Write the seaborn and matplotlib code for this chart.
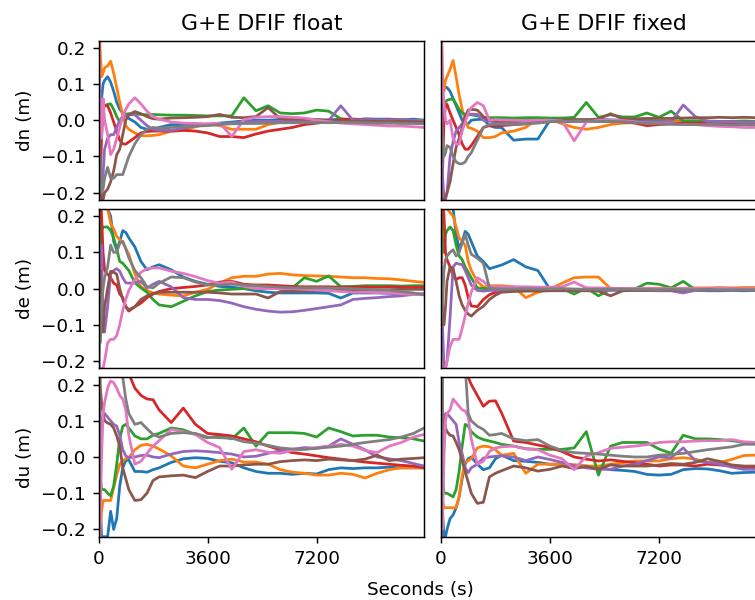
#Recreate the 3x2 grid of position-error traces (float vs fixed)
import numpy as np
import pandas as pd
import matplotlib
matplotlib.use('Agg')
import matplotlib.pyplot as plt
import seaborn as sns

#sample times (s), shared by every trace
seconds = [0, 50, 100, 150, 200, 300, 400, 500, 600, 700, 800, 900, 1000, 1200, 1400, 1600, 1800, 2000,
           2400, 2800, 3200, 3600, 4000, 4400, 4800, 5200, 5600, 6000, 6400, 6800, 7200, 7600, 8000,
           8400, 8800, 9200, 9600, 10000, 10400, 10750]
runs = ['run 1', 'run 2', 'run 3', 'run 4', 'run 5', 'run 6', 'run 7', 'run 8']

#north error, float solution (one row per run)
dn_float = [
    [0.4, -0.05, 0.06, 0.10, 0.11, 0.12, 0.105, 0.08, 0.05, 0.03, 0.02, 0.015, 0.005, -0.005, -0.02, -0.025, -0.025, -0.02, -0.012, -0.012, -0.01, -0.012, -0.008, -0.005, -0.002, 0.0, 0.0, 0.002, 0.001, -0.002, 0.0, 0.001, 0.003, 0.0, 0.004, 0.003, 0.003, 0.001, 0.003, 0.0],
    [0.4, 0.2, 0.12, 0.13, 0.145, 0.15, 0.163, 0.13, 0.09, 0.05, 0.015, -0.015, -0.025, -0.035, -0.043, -0.043, -0.042, -0.04, -0.03, -0.028, -0.018, -0.01, -0.015, -0.025, -0.025, -0.025, -0.012, -0.006, -0.005, -0.005, -0.004, -0.004, -0.003, -0.002, -0.002, -0.001, -0.002, -0.001, -0.002, -0.002],
    [-0.3, 0.0, 0.03, 0.04, 0.04, 0.044, 0.045, 0.03, 0.01, -0.005, 0.01, 0.017, 0.018, 0.017, 0.016, 0.015, 0.016, 0.015, 0.014, 0.014, 0.013, 0.012, 0.012, 0.012, 0.062, 0.026, 0.04, 0.02, 0.018, 0.02, 0.028, 0.025, 0.004, 0.002, 0.001, 0.0, 0.0, 0.001, 0.0, 0.0],
    [-0.4, -0.2, -0.05, 0.03, 0.04, 0.04, 0.02, -0.005, -0.03, -0.055, -0.065, -0.066, -0.06, -0.048, -0.035, -0.031, -0.03, -0.03, -0.03, -0.028, -0.03, -0.035, -0.045, -0.045, -0.048, -0.038, -0.03, -0.025, -0.02, -0.012, -0.008, -0.004, 0.002, 0.003, 0.002, 0.0, 0.001, 0.0, -0.002, -0.003],
    [0.3, -0.22, -0.22, -0.15, -0.08, -0.05, -0.04, -0.04, -0.02, 0.0, 0.01, 0.012, 0.015, 0.015, 0.0, -0.015, -0.025, -0.028, -0.028, -0.022, -0.016, -0.012, -0.01, -0.008, -0.005, -0.004, -0.003, -0.003, -0.002, -0.002, -0.002, -0.001, 0.04, 0.0, 0.002, 0.001, 0.0, 0.001, 0.0, -0.001],
    [-0.4, -0.1, -0.22, -0.22, -0.2, -0.19, -0.17, -0.14, -0.095, -0.08, -0.04, 0.0, 0.015, 0.024, 0.018, 0.01, 0.004, 0.003, 0.006, 0.007, 0.008, 0.01, 0.016, 0.008, 0.007, 0.01, 0.035, 0.004, 0.003, 0.003, 0.002, 0.0, -0.002, -0.003, -0.002, -0.003, -0.004, -0.003, -0.004, -0.005],
    [0.3, 0.05, -0.05, 0.06, 0.0, -0.04, -0.095, -0.08, -0.05, -0.02, 0.01, 0.03, 0.045, 0.062, 0.045, 0.025, 0.01, 0.003, -0.005, -0.008, -0.009, -0.01, -0.008, -0.045, 0.002, 0.008, 0.01, 0.01, 0.008, 0.006, 0.0, -0.004, -0.008, -0.01, -0.012, -0.014, -0.016, -0.016, -0.018, -0.02],
    [0.0, -0.1, -0.2, -0.19, -0.16, -0.13, -0.16, -0.16, -0.15, -0.15, -0.15, -0.125, -0.1, -0.065, -0.04, -0.025, -0.02, -0.022, -0.02, -0.018, -0.016, -0.015, -0.012, -0.01, -0.009, -0.009, -0.008, -0.007, -0.007, -0.006, -0.006, -0.007, -0.006, -0.006, -0.007, -0.008, -0.008, -0.009, -0.009, -0.01],
]

#north error, fixed solution
dn_fixed = [
    [-0.3, 0.12, 0.1, 0.09, 0.09, 0.08, 0.06, 0.04, 0.02, 0.0, -0.01, -0.01, 0.0, 0.002, 0.003, -0.015, -0.02, -0.02, -0.055, -0.052, -0.052, 0.0, 0.002, 0.001, 0.0, 0.002, 0.001, 0.0, -0.001, -0.001, -0.002, -0.002, -0.003, -0.002, -0.003, -0.004, -0.003, -0.004, -0.004, -0.004],
    [0.4, 0.1, 0.08, 0.11, 0.12, 0.14, 0.165, 0.12, 0.07, 0.03, 0.0, -0.02, -0.022, -0.03, -0.048, -0.048, -0.045, -0.035, -0.03, -0.02, 0.005, 0.004, -0.01, -0.02, -0.025, -0.02, -0.012, -0.008, -0.006, -0.005, -0.005, -0.004, -0.004, -0.005, -0.004, -0.004, -0.005, -0.004, -0.005, -0.005],
    [0.3, 0.0, 0.04, 0.05, 0.055, 0.058, 0.058, 0.045, 0.03, 0.02, 0.016, 0.015, 0.015, 0.012, 0.008, 0.007, 0.007, 0.007, 0.006, 0.007, 0.007, 0.006, 0.006, 0.008, 0.049, 0.008, 0.015, 0.009, 0.009, 0.02, 0.008, 0.025, -0.002, -0.002, -0.002, -0.003, -0.003, -0.002, -0.003, -0.003],
    [-0.4, -0.15, 0.0, 0.04, 0.044, 0.02, 0.0, -0.02, -0.04, -0.065, -0.08, -0.08, -0.07, -0.045, -0.02, -0.015, -0.015, -0.015, -0.012, -0.01, -0.006, -0.004, -0.004, -0.003, -0.003, -0.003, -0.002, -0.005, -0.008, -0.015, -0.012, -0.01, -0.008, -0.008, -0.007, -0.008, -0.008, -0.009, -0.008, -0.008],
    [0.3, -0.15, -0.22, -0.22, -0.2, -0.1, -0.06, -0.03, -0.02, -0.01, 0.01, 0.015, 0.017, 0.016, 0.0, -0.003, -0.004, -0.004, -0.004, -0.003, -0.003, -0.002, -0.002, -0.003, -0.002, -0.003, -0.004, -0.004, -0.005, -0.006, -0.006, -0.005, 0.042, 0.01, -0.003, -0.004, -0.004, -0.005, -0.005, -0.005],
    [-0.4, -0.22, -0.22, -0.21, -0.2, -0.17, -0.12, -0.075, -0.05, -0.02, 0.01, 0.028, 0.03, 0.028, 0.01, 0.0, -0.002, -0.002, -0.002, -0.001, -0.001, 0.0, 0.001, 0.002, 0.002, 0.003, 0.018, 0.004, 0.004, 0.005, 0.005, 0.005, 0.006, 0.007, 0.007, 0.008, 0.007, 0.008, 0.007, 0.007],
    [0.3, 0.1, 0.05, 0.0, -0.01, 0.0, -0.05, -0.066, -0.066, -0.03, -0.005, 0.02, 0.035, 0.049, 0.04, 0.0, 0.002, 0.001, 0.0, -0.001, 0.0, 0.0, -0.002, -0.057, -0.005, 0.0, 0.0, -0.001, -0.004, -0.008, -0.009, -0.01, -0.012, -0.012, -0.015, -0.017, -0.018, -0.02, -0.02, -0.02],
    [0.0, -0.05, -0.1, -0.09, -0.07, -0.075, -0.1, -0.115, -0.12, -0.12, -0.115, -0.1, -0.09, -0.055, -0.02, -0.012, -0.011, -0.011, -0.011, -0.01, -0.008, -0.004, -0.003, -0.002, -0.002, -0.003, -0.003, -0.004, -0.006, -0.009, -0.01, -0.011, -0.012, -0.012, -0.011, -0.012, -0.013, -0.012, -0.013, -0.013],
]

#east error, float solution
de_float = [
    [0.4, 0.3, 0.3, 0.3, 0.25, 0.22, 0.2, 0.13, 0.107, 0.13, 0.16, 0.155, 0.14, 0.115, 0.075, 0.052, 0.06, 0.066, 0.052, 0.032, 0.02, 0.012, 0.006, 0.004, 0.0, -0.006, -0.01, -0.012, -0.012, -0.012, -0.012, -0.013, -0.026, -0.012, -0.012, -0.012, -0.013, -0.014, -0.015, -0.015],
    [-0.3, 0.3, 0.3, 0.25, 0.22, 0.22, 0.18, 0.165, 0.144, 0.135, 0.13, 0.11, 0.095, 0.04, 0.005, -0.005, -0.012, -0.015, -0.018, -0.02, -0.01, -0.002, 0.015, 0.03, 0.034, 0.034, 0.04, 0.042, 0.038, 0.036, 0.035, 0.034, 0.032, 0.03, 0.03, 0.028, 0.027, 0.024, 0.02, 0.017],
    [0.4, 0.1, 0.16, 0.17, 0.17, 0.17, 0.16, 0.14, 0.11, 0.075, 0.07, 0.06, 0.05, 0.016, 0.002, -0.01, -0.03, -0.045, -0.05, -0.035, -0.02, -0.008, -0.004, -0.002, 0.0, -0.001, 0.0, 0.001, 0.002, 0.03, 0.02, 0.035, 0.005, 0.006, 0.008, 0.008, 0.008, 0.007, 0.008, 0.008],
    [0.4, 0.3, 0.2, 0.1, 0.05, 0.04, 0.03, 0.015, 0.01, -0.015, -0.025, -0.05, -0.062, -0.05, -0.04, -0.025, -0.015, -0.008, 0.0, 0.003, 0.006, 0.01, 0.018, 0.02, 0.012, 0.01, 0.01, 0.008, 0.006, 0.005, 0.005, 0.005, 0.004, 0.004, 0.005, 0.004, 0.005, 0.004, 0.004, 0.004],
    [-0.4, 0.1, 0.12, -0.1, -0.12, -0.05, 0.04, 0.05, 0.055, 0.048, 0.03, 0.016, 0.015, 0.016, 0.02, 0.002, 0.012, 0.02, 0.005, -0.025, -0.03, -0.03, -0.033, -0.04, -0.05, -0.057, -0.062, -0.065, -0.064, -0.06, -0.055, -0.05, -0.045, -0.03, -0.027, -0.025, -0.022, -0.02, -0.016, -0.014],
    [0.0, 0.05, -0.1, -0.12, -0.05, 0.0, 0.048, 0.045, 0.04, 0.0, -0.03, -0.05, -0.058, -0.05, -0.03, -0.02, -0.014, -0.01, -0.01, -0.01, -0.01, -0.01, -0.012, -0.015, -0.015, -0.015, -0.026, -0.008, -0.007, -0.007, -0.006, -0.006, -0.005, -0.005, -0.004, -0.004, -0.003, -0.002, -0.002, -0.002],
    [-0.4, -0.25, -0.22, -0.22, -0.2, -0.15, -0.14, -0.14, -0.13, -0.1, -0.06, -0.03, -0.005, 0.025, 0.045, 0.055, 0.057, 0.057, 0.048, 0.042, 0.033, 0.022, 0.015, 0.018, 0.006, 0.0, 0.0, 0.0, 0.0, -0.002, -0.004, -0.006, -0.008, -0.01, -0.01, -0.011, -0.012, -0.014, -0.016, -0.017],
    [0.0, -0.15, -0.05, 0.0, 0.03, 0.06, 0.12, 0.1, 0.1, 0.125, 0.13, 0.11, 0.085, 0.05, 0.03, 0.005, 0.002, 0.015, 0.032, 0.03, 0.018, 0.01, 0.01, 0.012, 0.01, 0.008, 0.006, 0.004, 0.002, 0.002, 0.002, 0.002, 0.001, 0.0, -0.002, -0.003, -0.005, -0.008, -0.012, -0.017],
]

#east error, fixed solution
de_fixed = [
    [0.4, 0.3, 0.3, 0.3, 0.28, 0.25, 0.22, 0.15, 0.11, 0.13, 0.158, 0.15, 0.13, 0.09, 0.075, 0.055, 0.06, 0.065, 0.08, 0.06, 0.05, -0.002, -0.002, -0.003, -0.003, -0.002, -0.003, -0.003, -0.004, -0.003, -0.004, -0.004, -0.005, -0.005, -0.006, -0.006, -0.005, -0.006, -0.005, -0.005],
    [-0.3, 0.3, 0.3, 0.25, 0.22, 0.21, 0.2, 0.17, 0.14, 0.13, 0.12, 0.075, 0.05, 0.02, 0.004, 0.008, 0.008, 0.008, 0.005, -0.025, -0.01, -0.002, 0.015, 0.03, 0.032, 0.032, 0.0, 0.0, 0.0, 0.001, 0.001, 0.0, 0.001, 0.002, 0.002, 0.003, 0.002, 0.003, 0.003, 0.003],
    [0.3, 0.11, 0.1, 0.15, 0.16, 0.17, 0.16, 0.12, 0.09, 0.08, 0.06, 0.045, 0.03, 0.002, 0.0, 0.0, 0.0, 0.0, 0.0, 0.0, 0.001, 0.0, 0.0, -0.015, 0.002, -0.02, -0.002, 0.0, -0.001, 0.015, 0.012, 0.002, 0.02, -0.003, -0.003, -0.002, -0.003, -0.003, -0.004, -0.004],
    [0.4, 0.3, 0.2, 0.1, 0.08, 0.06, 0.035, 0.025, 0.03, 0.03, 0.01, -0.025, -0.048, -0.05, -0.03, -0.017, -0.01, -0.006, -0.005, -0.005, -0.004, -0.004, -0.003, -0.003, -0.003, -0.002, -0.003, -0.003, -0.002, -0.002, -0.003, -0.002, -0.002, -0.003, -0.002, -0.002, -0.001, -0.002, -0.002, -0.002],
    [0.15, -0.1, -0.22, -0.22, -0.2, -0.08, 0.06, 0.07, 0.068, 0.066, 0.05, 0.03, 0.01, -0.005, -0.007, -0.005, -0.005, -0.005, -0.005, -0.004, -0.005, -0.004, -0.005, -0.005, -0.004, -0.005, -0.005, -0.005, -0.005, -0.005, -0.006, -0.006, -0.012, -0.005, -0.005, -0.004, -0.004, -0.004, -0.004, -0.004],
    [0.05, -0.05, -0.1, -0.05, 0.02, 0.06, 0.055, 0.02, -0.02, -0.045, -0.06, -0.07, -0.076, -0.06, -0.049, -0.03, -0.018, -0.01, -0.008, -0.007, -0.007, -0.006, -0.006, -0.006, -0.006, -0.007, -0.02, -0.006, -0.005, -0.005, -0.004, -0.004, -0.004, -0.003, -0.003, -0.003, -0.003, -0.003, -0.003, -0.003],
    [-0.4, -0.25, -0.22, -0.22, -0.2, -0.16, -0.14, -0.14, -0.14, -0.11, -0.075, -0.04, -0.01, 0.03, 0.02, 0.005, 0.005, 0.005, 0.005, 0.005, 0.004, 0.004, 0.005, 0.018, 0.002, 0.002, 0.001, 0.0, 0.0, 0.001, 0.0, 0.0, 0.001, 0.0, 0.0, 0.001, 0.0, 0.0, 0.0, 0.0],
    [-0.1, -0.05, 0.05, 0.08, 0.09, 0.1, 0.107, 0.09, 0.1, 0.125, 0.15, 0.12, 0.095, 0.084, 0.07, 0.002, 0.0, -0.001, -0.001, 0.0, -0.001, -0.001, 0.0, -0.001, -0.002, -0.002, -0.001, -0.002, -0.002, -0.002, -0.003, -0.002, -0.003, -0.003, -0.002, -0.003, -0.003, -0.003, -0.003, -0.003],
]

#up error, float solution
du_float = [
    [0.3, -0.1, -0.22, -0.22, -0.22, -0.22, -0.15, -0.2, -0.17, -0.08, -0.03, -0.01, -0.008, -0.04, -0.04, -0.042, -0.035, -0.03, -0.015, -0.005, -0.002, -0.004, -0.012, -0.016, -0.03, -0.04, -0.045, -0.045, -0.048, -0.045, -0.047, -0.035, -0.03, -0.032, -0.03, -0.03, -0.028, -0.03, -0.03, -0.03],
    [-0.4, -0.2, -0.15, -0.12, -0.12, -0.12, -0.12, -0.085, -0.05, -0.02, -0.01, -0.005, -0.002, 0.02, 0.032, 0.035, 0.03, 0.022, 0.003, -0.025, -0.03, -0.02, -0.01, -0.006, -0.014, -0.014, -0.02, -0.035, -0.042, -0.045, -0.05, -0.05, -0.045, -0.048, -0.058, -0.045, -0.035, -0.03, -0.03, -0.03],
    [0.3, -0.05, -0.09, -0.09, -0.09, -0.1, -0.107, -0.08, -0.02, 0.05, 0.085, 0.09, 0.08, 0.058, 0.05, 0.05, 0.06, 0.065, 0.08, 0.075, 0.062, 0.053, 0.058, 0.05, 0.08, 0.03, 0.067, 0.067, 0.067, 0.065, 0.055, 0.08, 0.07, 0.058, 0.06, 0.06, 0.055, 0.053, 0.05, 0.044],
    [-0.3, 0.3, 0.3, 0.3, 0.3, 0.3, 0.3, 0.3, 0.28, 0.26, 0.25, 0.24, 0.23, 0.19, 0.17, 0.16, 0.158, 0.13, 0.095, 0.135, 0.09, 0.065, 0.062, 0.058, 0.05, 0.042, 0.03, 0.02, 0.012, 0.008, 0.003, -0.002, -0.006, -0.01, -0.014, -0.017, -0.02, -0.023, -0.025, -0.03],
    [-0.3, 0.0, 0.1, 0.12, 0.12, 0.11, 0.1, 0.09, 0.085, 0.06, 0.02, 0.003, -0.002, 0.0, 0.004, 0.005, 0.0, -0.002, 0.008, 0.015, 0.017, 0.015, 0.012, 0.008, 0.0, 0.002, 0.01, 0.017, 0.021, 0.026, 0.024, 0.03, 0.05, 0.035, 0.02, 0.0, -0.005, -0.01, -0.018, -0.025],
    [0.4, 0.2, 0.15, 0.12, 0.1, 0.094, 0.09, 0.08, 0.058, 0.03, -0.03, -0.06, -0.09, -0.12, -0.118, -0.1, -0.065, -0.055, -0.052, -0.05, -0.057, -0.04, -0.025, -0.025, -0.022, -0.02, -0.02, -0.013, -0.01, -0.008, -0.01, -0.006, -0.008, -0.01, -0.006, 0.005, -0.01, -0.006, -0.004, -0.002],
    [-0.4, -0.2, 0.0, 0.12, 0.15, 0.19, 0.21, 0.205, 0.19, 0.17, 0.16, 0.13, 0.06, -0.02, -0.012, 0.01, 0.03, 0.045, 0.076, 0.07, 0.062, 0.04, 0.026, -0.034, 0.015, 0.02, 0.013, 0.01, 0.018, 0.021, 0.026, 0.03, 0.035, 0.03, 0.018, 0.012, 0.03, 0.04, 0.055, 0.062],
    [-0.4, 0.3, 0.3, 0.3, 0.3, 0.3, 0.3, 0.3, 0.3, 0.3, 0.22, 0.16, 0.12, 0.09, 0.095, 0.078, 0.062, 0.055, 0.065, 0.067, 0.065, 0.055, 0.053, 0.052, 0.042, 0.038, 0.032, 0.025, 0.022, 0.021, 0.024, 0.027, 0.03, 0.035, 0.04, 0.044, 0.048, 0.055, 0.065, 0.08],
]

#up error, fixed solution
du_fixed = [
    [0.3, -0.15, -0.22, -0.22, -0.2, -0.17, -0.16, -0.14, -0.11, -0.06, -0.02, -0.005, 0.0, -0.02, -0.035, -0.03, -0.005, 0.005, -0.01, -0.012, -0.015, -0.02, -0.02, -0.022, -0.025, -0.03, -0.035, -0.037, -0.04, -0.048, -0.05, -0.048, -0.035, -0.032, -0.033, -0.038, -0.045, -0.043, -0.042, -0.042],
    [-0.3, -0.12, -0.14, -0.14, -0.14, -0.14, -0.14, -0.14, -0.11, -0.05, -0.015, -0.01, -0.005, 0.025, 0.03, 0.028, 0.02, 0.005, 0.01, -0.045, -0.02, -0.02, -0.02, -0.022, -0.025, -0.025, -0.02, -0.016, -0.011, -0.011, -0.011, -0.005, -0.002, -0.006, -0.015, -0.015, -0.007, 0.004, 0.005, 0.005],
    [0.3, -0.05, -0.1, -0.1, -0.1, -0.105, -0.11, -0.09, -0.04, 0.03, 0.09, 0.085, 0.07, 0.055, 0.048, 0.044, 0.04, 0.035, 0.03, 0.023, 0.021, 0.021, 0.021, 0.025, 0.07, -0.05, 0.03, 0.04, 0.04, 0.04, 0.022, 0.01, 0.06, 0.05, 0.05, 0.048, 0.045, 0.04, 0.038, 0.038],
    [-0.3, 0.3, 0.3, 0.3, 0.3, 0.3, 0.3, 0.3, 0.3, 0.28, 0.25, 0.22, 0.2, 0.17, 0.14, 0.154, 0.155, 0.122, 0.044, 0.04, 0.033, 0.026, 0.015, 0.0, -0.006, -0.011, -0.008, -0.012, -0.016, -0.02, -0.025, -0.022, -0.022, -0.025, -0.02, -0.022, -0.025, -0.027, -0.027, -0.027],
    [-0.3, 0.0, 0.1, 0.12, 0.12, 0.11, 0.1, 0.09, 0.04, 0.01, -0.03, -0.043, -0.03, -0.02, -0.003, 0.0, 0.002, 0.003, 0.0, -0.01, 0.0, -0.007, -0.015, -0.025, -0.03, -0.034, -0.034, -0.025, -0.02, -0.01, 0.0, -0.002, 0.025, -0.01, -0.015, -0.02, -0.028, -0.034, -0.034, -0.034],
    [0.4, 0.1, 0.1, 0.08, 0.07, 0.06, 0.058, 0.04, 0.02, -0.01, -0.04, -0.07, -0.1, -0.128, -0.125, -0.055, -0.045, -0.038, -0.025, -0.03, -0.039, -0.034, -0.025, -0.032, -0.026, -0.034, -0.022, -0.025, -0.025, -0.025, -0.022, -0.018, -0.02, -0.015, -0.005, -0.012, -0.022, -0.025, -0.025, -0.025],
    [0.3, -0.2, 0.0, 0.1, 0.12, 0.13, 0.16, 0.15, 0.14, 0.13, 0.127, 0.11, 0.05, -0.02, -0.012, 0.015, 0.025, 0.028, 0.03, 0.022, 0.02, 0.005, -0.005, -0.035, 0.002, 0.012, 0.024, 0.027, 0.03, 0.034, 0.04, 0.042, 0.042, 0.044, 0.045, 0.045, 0.048, 0.042, 0.04, 0.04],
    [-0.4, 0.3, 0.3, 0.3, 0.3, 0.3, 0.3, 0.3, 0.3, 0.3, 0.25, 0.12, 0.1, 0.085, 0.076, 0.06, 0.062, 0.065, 0.05, 0.045, 0.048, 0.03, 0.018, 0.012, 0.01, 0.008, 0.005, 0.002, 0.0, 0.0, 0.005, 0.007, 0.01, 0.015, 0.02, 0.024, 0.028, 0.035, 0.035, 0.035],
]

titles = ['G+E DFIF float', 'G+E DFIF fixed']
ylabels = ['dn (m)', 'de (m)', 'du (m)']
panels = [[dn_float, dn_fixed], [de_float, de_fixed], [du_float, du_fixed]]

palette = sns.color_palette('tab10', len(runs))

#higher dpi on a smaller canvas -> same 755x600 pixels with the larger text of the original
dpi = 132
fig, axes = plt.subplots(3, 2, figsize=(755 / dpi, 600 / dpi), dpi=dpi, sharex=True, sharey=True)
#right column runs past the figure edge, like the cropped original
fig.subplots_adjust(left=0.1305, right=1.0152, top=0.9325, bottom=0.1055, wspace=0.052, hspace=0.056)

for r in range(3):
    for c in range(2):
        ax = axes[r, c]
        traces = panels[r][c]
        #long-form table for seaborn
        df = pd.DataFrame({
            't': np.tile(seconds, len(runs)),
            'err': np.concatenate(traces),
            'run': np.repeat(runs, len(seconds)),
        })
        sns.lineplot(data=df, x='t', y='err', hue='run', palette=palette, estimator=None,
                     errorbar=None, linewidth=1.5, legend=False, ax=ax)
        ax.set_xlim(0, 10750)
        ax.set_ylim(-0.22, 0.22)
        ax.set_xticks([0, 3600, 7200])
        ax.set_yticks([-0.2, -0.1, 0.0, 0.1, 0.2])
        ax.set_xlabel('')
        if c == 0:
            ax.set_ylabel(ylabels[r])
        else:
            ax.set_ylabel('')
            ax.tick_params(left=False)
        if r < 2:
            ax.tick_params(bottom=False)
        if r == 0:
            ax.set_title(titles[c])

fig.text(0.5575, 0.017, 'Seconds (s)', ha='center', va='center')

plt.savefig('out.png', dpi=dpi)
